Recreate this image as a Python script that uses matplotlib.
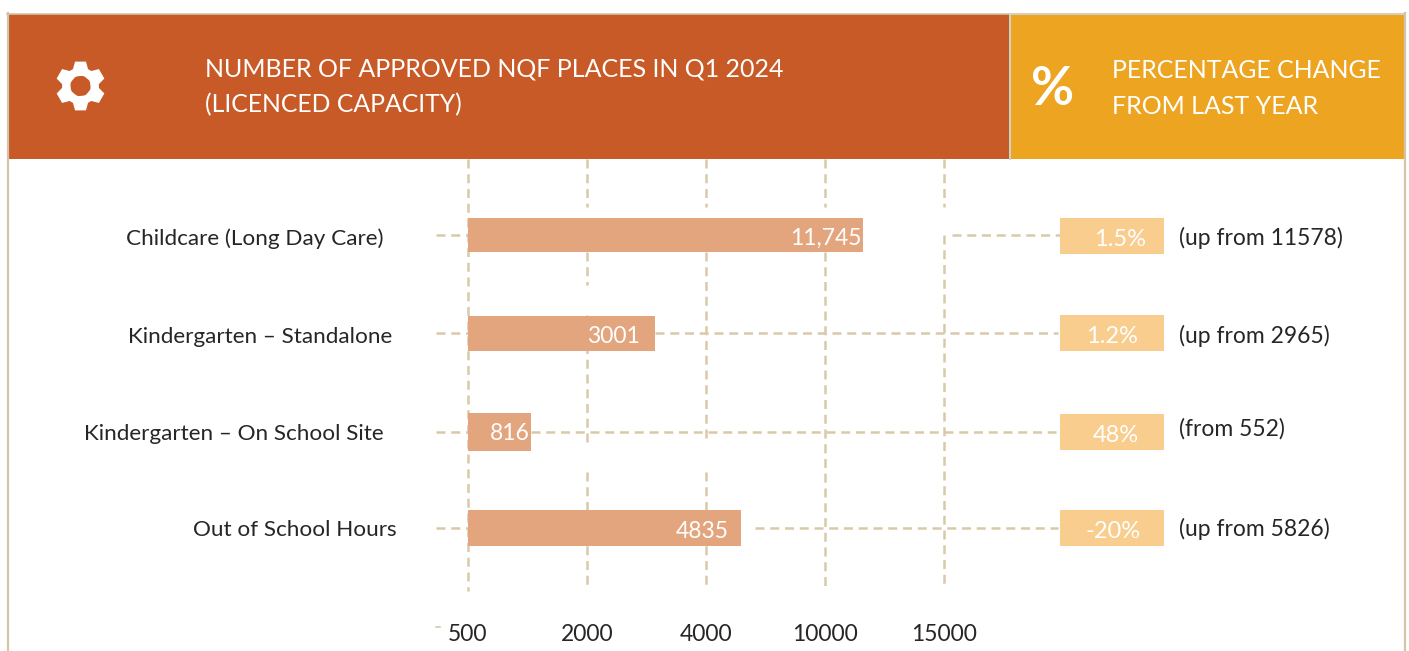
import numpy as np
import matplotlib
matplotlib.use("Agg")
import matplotlib.pyplot as plt
from matplotlib.patches import Rectangle, PathPatch
from matplotlib.path import Path

W, H = 1409, 651
plt.rcParams['font.family'] = ['Lato', 'DejaVu Sans']

# data
categories = ["Childcare (Long Day Care)", "Kindergarten – Standalone",
              "Kindergarten – On School Site", "Out of School Hours"]
places = [11745, 3001, 816, 4835]
place_labels = ["11,745", "3001", "816", "4835"]
pct_labels = ["1.5%", "1.2%", "48%", "-20%"]
notes = ["(up from 11578)", "(up from 2965)", "(from 552)", "(up from 5826)"]
ticks = [500, 2000, 4000, 10000, 15000]

# the axis in the source is not linear, these knots follow how it was drawn
scale_vals = [500, 816, 2000, 3001, 4000, 4835, 10000, 11745, 15000]
scale_pos = [468, 531, 587, 655, 706, 741, 825, 863, 944]

RUST = "#C85A27"
GOLD = "#EDA521"
BAR = "#E3A57E"
BOX = "#F8CD8E"
GRID = "#D9C9A9"
FRAME = "#D3C6A8"
TEXT = "#262626"


def fwd(v):
    return np.interp(np.asarray(v, dtype=float), scale_vals, scale_pos)


def inv(p):
    return np.interp(np.asarray(p, dtype=float), scale_pos, scale_vals)


fig = plt.figure(figsize=(W / 100, H / 100), dpi=100, facecolor="white")

# overlay in pixel coordinates for header, frame and side boxes
bg = fig.add_axes([0, 0, 1, 1], zorder=0)
bg.set_xlim(0, W)
bg.set_ylim(H, 0)
bg.axis("off")

# chart axes: x goes through the scale above, y is in pixels from the top
top, bottom = 159, 591
ax = fig.add_axes([468 / W, 1 - bottom / H, (944 - 468) / W, (bottom - top) / H], zorder=1)
ax.patch.set_alpha(0)
ax.set_xscale("function", functions=(fwd, inv))
ax.set_xlim(500, 15000)
ax.set_ylim(bottom, top)
for s in ax.spines.values():
    s.set_visible(False)

row_y = [235, 333.5, 432, 528]
bar_h = [34, 35, 38, 36]
label_y = [245, 343, 440, 538]
label_gap = [1, 15, 1, 12]

dash = dict(color=GRID, lw=1.8, dashes=(3.6, 2.3), clip_on=False, zorder=1)

# vertical gridlines are broken in places in the source
grid_parts = [
    [(159, 591)],
    [(159, 207), (252, 285), (315, 443), (472, 585)],
    [(159, 207), (252, 443), (472, 587)],
    [(159, 207), (252, 587)],
    [(159, 207), (235, 587)],
]
for t, parts in zip(ticks, grid_parts):
    for a, b in parts:
        ax.plot([t, t], [a, b], **dash)

# row leaders, left stub and the run from after the bar to the box
leader_x = [952, 655, 531, 755]
leader_end = [1060, 1058, 1056, 1058]
for i in range(len(categories)):
    yy = [row_y[i] - 0.5] * 2
    bg.plot([436, 468], yy, **dash)
    bg.plot([leader_x[i], leader_end[i]], yy, **dash)

ax.barh(row_y, np.array(places) - 500, left=500, height=bar_h, color=BAR, zorder=3)
for i, v in enumerate(places):
    ax.annotate(place_labels[i], (v, label_y[i]), xytext=(-label_gap[i] * 0.72, 0),
                textcoords="offset points", color="white", fontsize=16.5,
                ha="right", va="baseline", zorder=4)

ax.set_yticks([])
ax.set_xticks(ticks, [str(t) for t in ticks], fontsize=16.5, color=TEXT)
ax.tick_params(axis="x", length=0, pad=24)
ax.minorticks_off()

# category labels
cat_right = [384, 392, 384, 397]
cat_base = [245, 343, 440, 536]
for i, c in enumerate(categories):
    bg.text(cat_right[i], cat_base[i], c, ha="right", va="baseline", fontsize=16.2, color=TEXT)

# percentage boxes on the right
box_top = [218, 315, 414, 510]
box_h = [36, 36, 36, 36]
pct_x = [1120, 1112, 1116, 1113]
note_base = [245, 343, 436, 536]
for i in range(len(categories)):
    bg.add_patch(Rectangle((1060, box_top[i]), 104, box_h[i], color=BOX, lw=0, zorder=3))
    bg.text(pct_x[i], box_top[i] + 28, pct_labels[i], color="white", fontsize=17,
            ha="center", va="baseline", zorder=4)
    bg.text(1179, note_base[i], notes[i], color=TEXT, fontsize=16.5, ha="left", va="baseline", zorder=4)

# header and frame
bg.add_patch(Rectangle((8, 14), 1001, 145, color=RUST, lw=0, zorder=2))
bg.add_patch(Rectangle((1011, 15), 393, 144, color=GOLD, lw=0, zorder=2))
bg.plot([7, 1405], [13.5, 13.5], color=FRAME, lw=1.2, zorder=2)
bg.plot([7.5, 7.5], [13, H], color=FRAME, lw=1.6, zorder=2)
bg.plot([1405, 1405], [13, H], color=FRAME, lw=1.6, zorder=2)
bg.plot([1010, 1010], [14, 159], color="#C9D3C4", lw=1.4, zorder=2)

bg.text(205, 77, "NUMBER OF APPROVED NQF PLACES IN Q1 2024", color="white", fontsize=18,
        ha="left", va="baseline", zorder=3)
bg.text(205, 112, "(LICENCED CAPACITY)", color="white", fontsize=17.8, ha="left", va="baseline", zorder=3)
bg.text(1112, 78, "PERCENTAGE CHANGE", color="white", fontsize=17.9, ha="left", va="baseline", zorder=3)
bg.text(1112, 114, "FROM LAST YEAR", color="white", fontsize=18, ha="left", va="baseline", zorder=3)
bg.text(1053, 105, "%", color="white", fontsize=38, fontweight="bold", ha="center", va="baseline", zorder=3)

# gear icon
cx, cy = 80.5, 86
outer, inner, hole = 25, 18.5, 10
pts = []
for k in range(6):
    a = np.pi / 2 + k * np.pi / 3
    for da, r in [(-0.42, inner), (-0.22, outer), (0.22, outer), (0.42, inner)]:
        pts.append((cx + r * np.cos(a + da), cy + r * np.sin(a + da)))
pts.append(pts[0])
codes = [Path.MOVETO] + [Path.LINETO] * (len(pts) - 2) + [Path.CLOSEPOLY]
circle = Path.circle((cx, cy), hole)
gear = Path.make_compound_path(Path(pts, codes), Path(circle.vertices[::-1], circle.codes))
bg.add_patch(PathPatch(gear, facecolor="white", edgecolor="none", zorder=3))

# small stray tick left of the axis labels
bg.plot([436, 440], [627, 627], color=GRID, lw=1.2, zorder=1)

fig.savefig("out.png", dpi=100)
